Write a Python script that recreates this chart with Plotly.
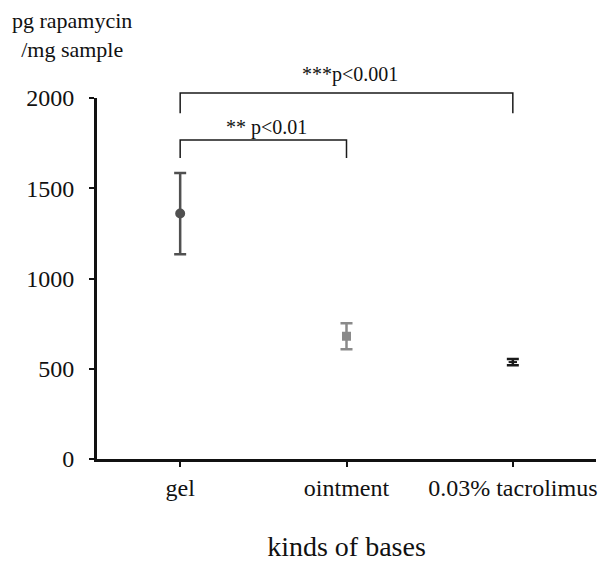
import plotly.graph_objects as go

categories = ["gel", "ointment", "0.03% tacrolimus"]
means = [1360, 680, 537]
errors = [225, 72, 17]
marker_colors = ["#505050", "#8a8a8a", "#1a1a1a"]
marker_symbols = ["circle", "square", "line-ew"]
marker_sizes = [8, 7, 6]
y_ticks = [0, 500, 1000, 1500, 2000]

# significance brackets: (start idx, end idx, label, bar paper y, leg paper y, label paper y, label x)
brackets = [
    (0, 2, "***p<0.001", 1.0139, 0.958, 1.064, 1.02),
    (0, 1, "** p<0.01", 0.8837, 0.834, 0.917, 0.52),
]

FONT = "Liberation Serif"

fig = go.Figure()
for i, c in enumerate(categories):
    fig.add_trace(go.Scatter(
        x=[i], y=[means[i]], mode="markers",
        marker=dict(color=marker_colors[i], size=marker_sizes[i], symbol=marker_symbols[i],
                    line=dict(color=marker_colors[i], width=2)),
        error_y=dict(type="data", array=[errors[i]], color=marker_colors[i],
                     thickness=2.5, width=6),
        showlegend=False, cliponaxis=False,
    ))

for a, b, label, ytop, ybot, ylab, xlab in brackets:
    fig.add_shape(type="path", xref="x", yref="paper",
                  path=f"M {a},{ybot} L {a},{ytop} L {b},{ytop} L {b},{ybot}",
                  line=dict(color="#1a1a1a", width=1.5))
    fig.add_annotation(x=xlab, y=ylab, xref="x", yref="paper", text=label, showarrow=False,
                       font=dict(family=FONT, size=20, color="#111"), xanchor="center", yanchor="middle")

fig.add_annotation(x=-0.05, y=1.175, xref="paper", yref="paper",
                   text="pg rapamycin<br>/mg sample", showarrow=False, align="center",
                   font=dict(family=FONT, size=22, color="#111"), xanchor="center", yanchor="middle")

fig.update_layout(
    width=603, height=562,
    margin=dict(l=97, r=7, t=98, b=103),
    plot_bgcolor="white", paper_bgcolor="white",
    font=dict(family=FONT, color="#111"),
    xaxis=dict(range=[-0.5, 2.5], tickmode="array", tickvals=list(range(len(categories))),
               ticktext=categories, showline=True, linecolor="#111", linewidth=3,
               ticks="outside", ticklen=5, tickwidth=2, tickcolor="#111", automargin=False,
               showgrid=False, zeroline=False, tickfont=dict(family=FONT, size=24, color="#111"),
               title=dict(text="kinds of bases", font=dict(family=FONT, size=28, color="#111"), standoff=45)),
    yaxis=dict(range=[0, 2000], tickvals=y_ticks, showline=True, linecolor="#111", linewidth=3,
               ticks="outside", ticklen=5, tickwidth=2, tickcolor="#111", automargin=False,
               showgrid=False, zeroline=False, tickfont=dict(family=FONT, size=24, color="#111"),
               ticklabelstandoff=10),
)

fig.write_html("out.html")
